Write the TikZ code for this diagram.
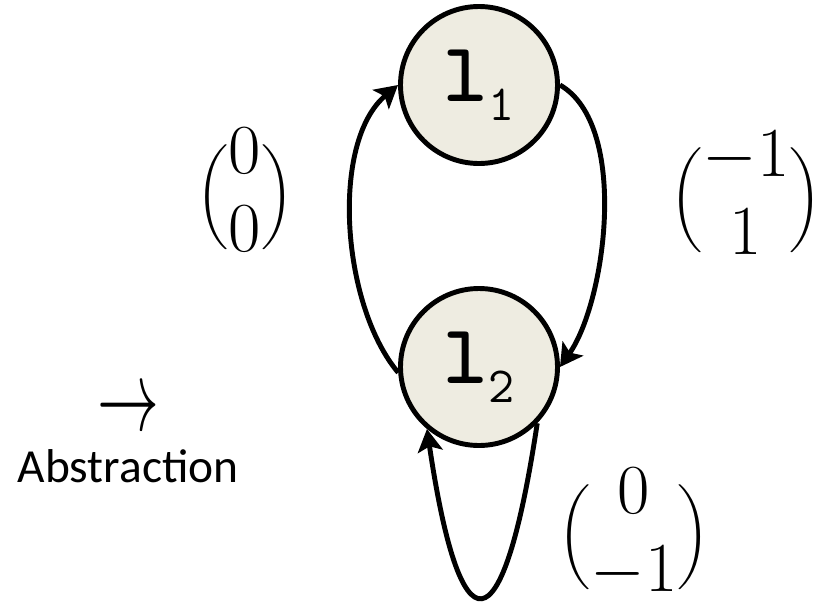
\documentclass[tikz,border=0pt]{standalone}
\usepackage{fix-cm}
\usepackage{amsmath}
\usepackage{fontspec}
\newfontfamily\calibri{Carlito}
\usepackage{tikz}
\usetikzlibrary{arrows.meta}
\definecolor{statefill}{HTML}{EEECE1}
\newcommand{\loc}[1]{\scalebox{2.4}{{\fontsize{20}{20}\selectfont\ttfamily\bfseries l}\raisebox{-4.5pt}{\fontsize{12}{12}\selectfont\ttfamily #1}}}
\newcommand{\colvec}[2]{$\delimitershortfall=30pt\delimiterfactor=650\left(\begin{matrix}#1\\#2\end{matrix}\right)$}

\begin{document}
\begin{tikzpicture}[
  state/.style={circle,draw,line width=2.8pt,fill=statefill,minimum size=3.14cm,inner sep=0pt},
  edge/.style={line width=2.8pt,-{Stealth[length=0.45cm,width=0.5cm,inset=0.1cm]}},
  vec/.style={font=\fontsize{40}{44}\selectfont}]
\useasboundingbox (0,0) rectangle (16.6,-12.06);
\node[state] (l1) at (9.58,-1.70) {\loc{1}};
\node[state] (l2) at (9.58,-7.34) {\loc{2}};
\draw[edge] (l1.0) to[out=-30,in=55,looseness=0.73] (l2.0);
\draw[edge] (l2.184) to[out=130,in=-140,looseness=0.79] (l1.180);
\draw[edge] (l2.-44) .. controls +(-0.70,-4.64) and +(0.66,-4.46) .. (l2.-130);
\node[vec] (v21) at (4.9,-3.94) {\colvec{0}{0}};
\node[vec] (v12) at (14.92,-4.0) {\colvec{-1}{1}};
\node[vec] (v22) at (12.68,-10.74) {\colvec{0}{-1}};
\node (arr) at (2.56,-8.24) {\scalebox{1.1}[1.8]{\fontsize{32}{36}\selectfont$\rightarrow$}};
\node[font=\calibri\fontsize{27}{30}\selectfont,anchor=base] (abs) at (2.56,-9.64) {Abstraction};
\end{tikzpicture}
\end{document}
